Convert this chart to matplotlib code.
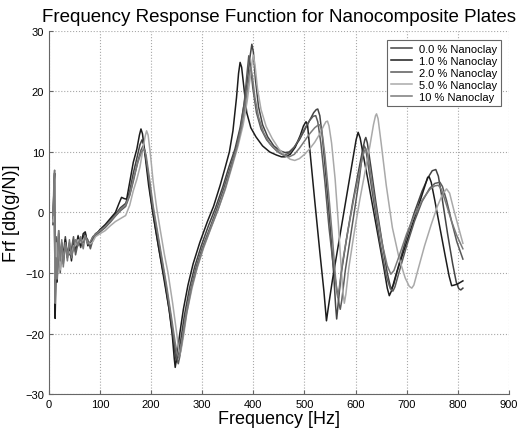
import matplotlib
matplotlib.use("Agg")
import matplotlib.pyplot as plt

plt.rcParams['font.family'] = ['Liberation Sans', 'DejaVu Sans']

labels = ["0.0 % Nanoclay", "1.0 % Nanoclay", "2.0 % Nanoclay", "5.0 % Nanoclay", "10 % Nanoclay"]
colors = ['#444444', '#1c1c1c', '#5a5a5a', '#a9a9a9', '#7a7a7a']

# 0.0 % - second darkest
freq_0 = [8, 10, 12, 14, 16, 19, 22, 25, 28, 32, 36, 40, 44, 48, 52, 57, 62, 67, 71, 76, 81, 86, 91,
          100, 110, 120, 130, 140, 150, 158, 165, 172, 178, 182, 186, 192, 200, 208, 215, 226, 236,
          243, 248, 250, 253, 258, 265, 275, 285, 298, 312, 326, 340, 352, 364, 374, 382, 388, 393,
          397, 400, 404, 410, 418, 428, 440, 452, 462, 470, 480, 490, 500, 510, 518, 523, 526, 530,
          535, 542, 550, 557, 561, 563, 566, 572, 582, 595, 605, 613, 618, 620, 623, 630, 640, 652,
          662, 668, 671, 675, 685, 700, 715, 730, 742, 750, 757, 762, 770, 780, 790, 797, 802, 806, 810]
frf_0 = [-1, 3, -12, -6, -10.5, -3.5, -8.5, -5.5, -7, -4, -7, -6, -7.5, -5, -6, -3.8, -5.8, -4, -3.5, -5, -5.5, -4.2, -3.5,
         -3, -2.2, -1.3, -0.3, 0.8, 1.5, 3.5, 6.5, 9, 11.2, 12, 11, 7.5, 2, -2.5, -6, -11, -16.5,
         -21, -24, -24.7, -23.5, -21, -17, -12.5, -9, -5.5, -2.2, 0.8, 4.2, 7.5, 10.5, 14, 18, 21.5, 25.5,
         27.8, 26.5, 22, 17.5, 14.5, 12.5, 11, 10.2, 9.9, 10, 10.8, 12, 13.6, 15.2, 16.5, 17, 17.1, 16,
         12.5, 6, -2, -10, -15.5, -17.6, -15, -10, -4.5, 2, 6.5, 10, 12, 12.4, 11.5, 7.5, 1.5, -5,
         -10, -12.2, -12.6, -11.8, -8.5, -4, 0, 3.5, 5.8, 6.9, 7.1, 6, 2, -3.5, -8.5, -11.5, -12.6, -12.8, -12.5]

# 1.0 % - darkest, lowest resonances
freq_1 = [8, 10, 11, 12, 14, 16, 19, 22, 25, 28, 32, 36, 40, 44, 48, 52, 57, 62, 67, 71, 76, 81, 86, 91,
          100, 110, 120, 130, 137, 142, 147, 152, 158, 165, 172, 177, 180, 183, 188, 195, 203, 212, 224,
          235, 241, 245, 247, 250, 256, 263, 272, 282, 295, 310, 322, 335, 345, 353, 360, 367, 371, 374,
          377, 381, 387, 395, 405, 418, 432, 445, 455, 462, 472, 482, 492, 498, 503, 506, 512, 520, 530,
          538, 543, 547, 555, 570, 585, 595, 601, 605, 609, 615, 625, 640, 655, 662, 666, 670, 680, 695,
          710, 725, 735, 741, 744, 748, 755, 765, 775, 783, 788, 793, 800, 810]
frf_1 = [-2, 5, 6.5, -17.5, -9, -11.5, -4, -9, -5, -8, -4.5, -7.5, -5, -8, -4.5, -6.5, -4, -5.5, -3.5, -3.2, -5.5, -5, -4, -3.8,
         -2.8, -2, -1, 0, 1.5, 2.5, 2.3, 2.2, 5, 8.3, 10.5, 12.8, 13.8, 13, 9.5, 4.5, 0, -4.5, -10.5,
         -16, -20, -24, -25.6, -24, -20, -16, -12, -8.5, -5, -1.5, 1, 4.5, 7.5, 10, 13.5, 19, 23, 24.8,
         24, 21, 16.5, 14, 12.5, 11, 10, 9.5, 9.2, 9.2, 9.6, 10.8, 12.8, 14.3, 15, 14.5, 9, 2, -6.5,
         -13, -17.9, -15.5, -11, -3.5, 4, 9, 12, 13.25, 12.3, 9.5, 5, -2, -9, -12.5, -13.75, -13, -10, -6.2,
         -2.3, 1.6, 4.2, 5.8, 5.9, 5, 2, -2.5, -7, -10.5, -12.1, -12, -11.8, -11.3]

# 2.0 %
freq_2 = [8, 10, 12, 14, 16, 19, 22, 25, 28, 32, 36, 40, 44, 48, 52, 57, 62, 67, 71, 76, 81, 86, 91,
          100, 110, 120, 130, 140, 150, 158, 166, 174, 180, 184, 188, 194, 202, 210, 218, 228, 238,
          245, 250, 253, 256, 261, 268, 278, 288, 300, 315, 328, 342, 355, 366, 375, 382, 387, 391,
          394, 399, 406, 415, 426, 438, 450, 460, 470, 480, 490, 500, 510, 517, 522, 526, 532, 540,
          548, 556, 563, 568, 570, 573, 580, 590, 600, 608, 613, 617, 620, 626, 636, 648, 660, 668,
          673, 677, 688, 700, 715, 730, 745, 755, 765, 770, 778, 788, 798, 810]
frf_2 = [0, 4, -10, -4, -9, -3, -10, -6, -8.5, -5, -6.5, -7, -6, -4, -7, -5, -4.5, -5, -4, -4.5, -6, -4.5, -3.8,
         -3.2, -2.5, -1.6, -0.6, 0.3, 1, 2.8, 5.5, 8.5, 10.3, 11, 10, 6.5, 1.5, -2.5, -6.5, -11.5, -17,
         -21.5, -24, -25, -23.8, -21, -17, -12.5, -9, -5.8, -2.5, 0.5, 4, 7.5, 10.5, 14, 18, 22.5, 25.9,
         24.5, 20.5, 16.5, 13.8, 12, 10.8, 9.9, 9.5, 9.8, 10.8, 12.2, 13.8, 15.2, 15.9, 16, 15, 11.5, 5,
         -2.5, -8.5, -12.5, -15.3, -16, -14.5, -9.5, -4, 1.5, 6, 9.5, 11, 10.5, 7, 1.5, -5, -10.5, -12.6,
         -13, -12.3, -9, -5.5, -1.5, 1.8, 4, 4.8, 5, 4.3, 2, -1.5, -4.8, -7.7]

# 5.0 % - light grey, highest resonances
freq_3 = [8, 10, 12, 14, 16, 19, 22, 25, 28, 32, 36, 40, 44, 48, 52, 57, 62, 67, 71, 76, 81, 86, 91,
          100, 110, 120, 130, 140, 150, 158, 165, 172, 178, 184, 188, 191, 194, 198, 204, 211, 218,
          226, 233, 242, 250, 254, 256, 259, 264, 270, 280, 290, 302, 316, 330, 345, 358, 370, 380,
          388, 394, 398, 400, 403, 408, 415, 425, 437, 450, 462, 472, 481, 490, 500, 510, 520, 530,
          538, 542, 545, 548, 553, 560, 566, 571, 575, 578, 581, 587, 597, 608, 618, 628, 635, 639,
          641, 644, 650, 660, 672, 685, 697, 705, 710, 714, 722, 735, 748, 760, 770, 778, 784, 792, 800, 810]
frf_3 = [-1.5, 2, -11, -5, -9.5, -4.5, -9.5, -6.5, -7.5, -5.5, -7, -6.5, -7, -5.5, -5.5, -4.5, -5, -4.5, -4.2, -5, -5.2, -4.8, -4,
         -3.5, -3, -2.2, -1.5, -1, -0.5, 1.2, 3.6, 5.5, 7.5, 10.5, 12.5, 13.5, 12.8, 10, 5, 0.6, -3,
         -7, -10, -15, -20, -22.8, -23.5, -22.5, -20, -16.5, -12.5, -9.2, -6, -2.8, 0.3, 3.8, 7.5, 11, 14.5,
         18.5, 22.5, 25.2, 26, 24.5, 20.5, 17, 14.2, 12.2, 10.5, 9.4, 8.8, 8.6, 8.9, 9.6, 10.5, 11.6, 13,
         14.4, 15, 15.1, 14.3, 11.5, 5.5, -1.5, -8, -13, -15, -13.5, -9, -3.5, 2, 6.5, 11, 14.5, 16,
         16.3, 15.5, 11.5, 4.5, -2.5, -7.5, -10.8, -12.2, -12.5, -12, -9.5, -5.5, -2, 1, 3, 3.9, 3.2, 0.5, -2, -5.1]

# 10 %
freq_4 = [8, 10, 11, 12, 14, 16, 19, 22, 25, 28, 32, 36, 40, 44, 48, 52, 57, 62, 67, 71, 76, 81, 86, 91,
          100, 110, 120, 130, 140, 150, 158, 166, 174, 181, 186, 190, 196, 204, 212, 220, 230, 240,
          247, 251, 254, 257, 262, 269, 279, 290, 302, 317, 331, 345, 357, 368, 377, 384, 389, 393,
          395, 398, 403, 410, 420, 432, 445, 458, 470, 480, 490, 500, 510, 520, 526, 530, 534, 540,
          548, 555, 560, 563, 565, 568, 575, 585, 597, 607, 614, 618, 620, 624, 632, 642, 653, 662,
          669, 675, 686, 700, 715, 730, 745, 755, 762, 768, 777, 788, 798, 810]
frf_4 = [-0.5, 6, 7, -15, -7.5, -11, -3, -8, -4.5, -9, -5, -8, -4.5, -7.5, -6, -4.5, -5.5, -4, -6, -3.8, -5.2, -4.8, -4, -3.6,
         -3, -2.3, -1.4, -0.5, 0.5, 1.2, 3, 5.8, 8.3, 10, 10.5, 9.5, 6, 1, -3, -7, -12, -17.5,
         -21.5, -23.3, -24, -23, -20.5, -16.8, -12.5, -9, -5.8, -2.5, 0.5, 4, 7.5, 10.8, 14.2, 17.8, 21, 23.5,
         24, 22.5, 19, 15.8, 13.2, 11.4, 10.2, 9.5, 9.2, 9.6, 10.6, 11.8, 13, 14, 14.4, 14.5, 13.5, 9.5,
         2.5, -4.5, -10, -13, -14, -12.5, -8, -3, 2.5, 6.5, 9.3, 10.3, 10.5, 9.5, 5, -0.5, -5.5, -8.8,
         -10.2, -9.6, -7, -3.5, -0.5, 2, 3.8, 4.4, 4.5, 3.8, 1.5, -1.5, -3.8, -6]

all_freq = [freq_0, freq_1, freq_2, freq_3, freq_4]
all_frf = [frf_0, frf_1, frf_2, frf_3, frf_4]

fig = plt.figure(figsize=(5.25, 4.39), dpi=100)
ax = fig.add_axes([0.0933, 0.1002, 0.876, 0.827])

for f, v, c, lab in zip(all_freq, all_frf, colors, labels):
    ax.plot(f, v, color=c, lw=1.1, label=lab)

ax.set_xlim(0, 900)
ax.set_ylim(-30, 30)
ax.set_xticks(range(0, 901, 100))
ax.set_yticks(range(-30, 31, 10))
ax.grid(True, linestyle=':', color='#a8a8a8', lw=0.8)
ax.set_axisbelow(True)

for s in ['top', 'right']:
    ax.spines[s].set_visible(False)
for s in ['left', 'bottom']:
    ax.spines[s].set_color('#666666')
ax.tick_params(direction='in', length=3, labelsize=8, color='#666666')

ax.set_title("Frequency Response Function for Nanocomposite Plates", fontsize=13.5, pad=7)
ax.set_xlabel("Frequency [Hz]", fontsize=13, labelpad=1)
ax.set_ylabel("Frf [db(g/N)]", fontsize=13, labelpad=4)

leg = ax.legend(loc='upper right', fontsize=8, fancybox=False, framealpha=1,
                edgecolor='#666666', handlelength=1.9, handletextpad=0.6,
                labelspacing=0.18, borderpad=0.35, bbox_to_anchor=(0.995, 0.99))
leg.get_frame().set_linewidth(0.8)

fig.savefig("out.png", dpi=100)
